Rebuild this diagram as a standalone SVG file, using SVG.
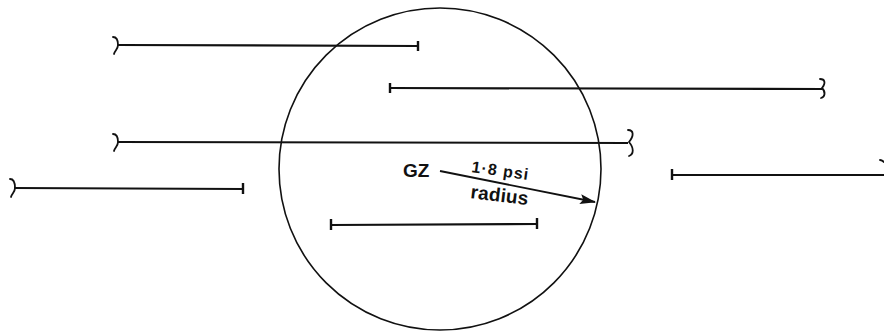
<svg xmlns="http://www.w3.org/2000/svg" width="884" height="332" viewBox="0 0 884 332">
<style>
.ln{stroke:#111;stroke-width:2.2;fill:none}
.tk{stroke:#111;stroke-width:2.4;fill:none}
.br{stroke:#111;stroke-width:1.8;fill:none;stroke-linecap:round}
.ci{stroke:#111;stroke-width:1.6;fill:none}
.t{font-family:"Liberation Sans",Arial,sans-serif;fill:#111}
</style>
<defs>
<marker id="ah" markerWidth="16" markerHeight="10" refX="15" refY="5" orient="auto" markerUnits="userSpaceOnUse" viewBox="0 0 16 10">
<path d="M0,0 L16,5 L0,10 L3,5 Z" fill="#111"/>
</marker>
</defs>
<rect width="884" height="332" fill="#fff"/>
<g id="circle"><ellipse class="ci" cx="440" cy="169" rx="161" ry="161"/></g>
<g id="connectors">
<g id="line1"><line class="ln" x1="118" y1="45" x2="418" y2="46"/><line class="tk" x1="418" y1="41" x2="418" y2="51"/><path class="br" d="M113,37 C117,37 118,41 118,45 C118,49 115,50 114,54"/></g>
<g id="line2"><line class="ln" x1="390" y1="88" x2="822" y2="89"/><line class="tk" x1="390" y1="83" x2="390" y2="93"/><path class="br" d="M820,79 C825,79 826,83 822,88 C826,92 825,97 821,98"/></g>
<g id="line3"><line class="ln" x1="118" y1="142" x2="628" y2="143"/><path class="br" d="M113,134 C117,134 118,138 118,142 C118,146 115,147 114,151"/><path class="br" d="M628,130 C634,130 634,136 629,142 C634,148 634,154 629,156"/></g>
<g id="line4"><line class="ln" x1="14" y1="188" x2="243" y2="189"/><line class="tk" x1="243" y1="183" x2="243" y2="194"/><path class="br" d="M10,179 C14,179 15,183 15,188 C15,192 12,193 11,197"/></g>
<g id="line5"><line class="ln" x1="672" y1="175" x2="884" y2="175"/><line class="tk" x1="672" y1="169" x2="672" y2="180"/><path class="br" d="M880,160 C882,160 883,161 884,162"/></g>
<g id="line6"><line class="ln" x1="331" y1="225" x2="537" y2="224"/><line class="tk" x1="331" y1="219" x2="331" y2="230"/><line class="tk" x1="537" y1="218" x2="537" y2="229"/></g>
<g id="arrow"><line stroke="#111" stroke-width="1.8" x1="440" y1="171" x2="595" y2="202" marker-end="url(#ah)"/></g>
</g>
<g id="labels">
<text class="t" x="403" y="177" font-size="19" font-weight="bold">GZ</text>
<text class="t" x="471" y="172" font-size="16" font-weight="bold" transform="rotate(8 471 172)" textLength="57">1·8 psi</text>
<text class="t" x="470" y="198" font-size="19" font-weight="bold" transform="rotate(7 470 198)" textLength="58">radius</text>
</g>
</svg>
